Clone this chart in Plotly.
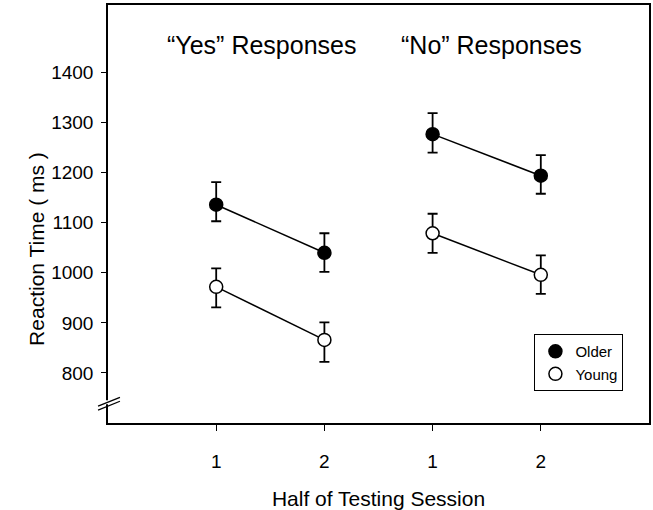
import plotly.graph_objects as go

# Data
x_pos = [1, 2, None, 3, 4]
tick_vals_x = [1, 2, 3, 4]
tick_text_x = ["1", "2", "1", "2"]
older_rt = [1136, 1040, None, 1277, 1194]
older_err_plus = [45, 39, None, 42, 41]
older_err_minus = [33, 38, None, 37, 36]
young_rt = [972, 866, None, 1079, 996]
young_err_plus = [37, 35, None, 39, 39]
young_err_minus = [41, 44, None, 39, 38]
y_ticks = [800, 900, 1000, 1100, 1200, 1300, 1400]
panel_labels = ["\u201cYes\u201d Responses", "\u201cNo\u201d Responses"]
panel_label_x = [1.42, 3.54]
series_names = ["Older", "Young"]
series_fill = ["black", "white"]

FONT = "Liberation Sans, Arial, sans-serif"

fig = go.Figure()
for name, rt, ep, em, fill in [
    (series_names[0], older_rt, older_err_plus, older_err_minus, series_fill[0]),
    (series_names[1], young_rt, young_err_plus, young_err_minus, series_fill[1]),
]:
    fig.add_trace(go.Scatter(
        x=x_pos, y=rt, mode="lines+markers", name=name, showlegend=False,
        line=dict(color="black", width=1.5),
        marker=dict(symbol="circle", size=13, color=fill, line=dict(color="black", width=1.5)),
        error_y=dict(type="data", symmetric=False, array=ep, arrayminus=em,
                     color="black", thickness=1.8, width=5),
    ))
# legend entries (markers only, as in the reference legend)
for name, fill in zip(series_names, series_fill):
    fig.add_trace(go.Scatter(
        x=[None], y=[None], mode="markers", name=name,
        marker=dict(symbol="circle", size=13, color=fill, line=dict(color="black", width=1.5)),
    ))

for txt, xv in zip(panel_labels, panel_label_x):
    fig.add_annotation(x=xv, y=1456, xref="x", yref="y", text=txt, showarrow=False,
                       font=dict(family=FONT, size=25, color="black"))

# y-axis title placed as annotation to match reference position
fig.add_annotation(x=(22 - 108) / 543, y=(428 - 252) / 423, xref="paper", yref="paper",
                   text="Reaction Time ( ms )", textangle=-90, showarrow=False,
                   font=dict(family=FONT, size=21, color="black"))

# axis break marks (decoration, in paper coords)
def px2paper(px, py):
    return (px - 108) / 543, (428 - py) / 423

x0, y0 = px2paper(104, 409)
x1, y1 = px2paper(112, 405)
fig.add_shape(type="rect", xref="paper", yref="paper", x0=x0, y0=y0, x1=x1, y1=y1,
              line=dict(width=0), fillcolor="white", layer="above")
for a, b in [((98, 411), (120, 402)), ((98, 415), (120, 406))]:
    pa = px2paper(*a)
    pb = px2paper(*b)
    fig.add_shape(type="line", xref="paper", yref="paper", x0=pa[0], y0=pa[1], x1=pb[0], y1=pb[1],
                  line=dict(color="black", width=1.3), layer="above")

fig.update_layout(
    width=653, height=510,
    margin=dict(l=108, r=2, t=5, b=82),
    paper_bgcolor="white", plot_bgcolor="white",
    font=dict(family=FONT, color="black"),
    showlegend=True,
    legend=dict(x=(536 - 108) / 543, y=(428 - 338) / 423, xanchor="left", yanchor="top",
                bordercolor="black", borderwidth=1, bgcolor="white",
                font=dict(family=FONT, size=15), itemwidth=30, tracegroupgap=0),
    xaxis=dict(range=[0, 5], tickvals=tick_vals_x, ticktext=tick_text_x,
               showline=True, linecolor="black", linewidth=1.5, mirror=True,
               ticks="outside", ticklen=6, tickwidth=1.3, tickcolor="black",
               showgrid=False, zeroline=False, ticklabelstandoff=14,
               tickfont=dict(size=19, family=FONT),
               title=dict(text="Half of Testing Session", font=dict(size=21, family=FONT), standoff=22)),
    yaxis=dict(range=[700, 1535], tickvals=y_ticks,
               showline=True, linecolor="black", linewidth=1.5, mirror=True,
               ticks="outside", ticklen=5, tickwidth=1.3, tickcolor="black",
               showgrid=False, zeroline=False, ticklabelstandoff=4,
               tickfont=dict(size=19, family=FONT)),
)

fig.write_html("out.html")
